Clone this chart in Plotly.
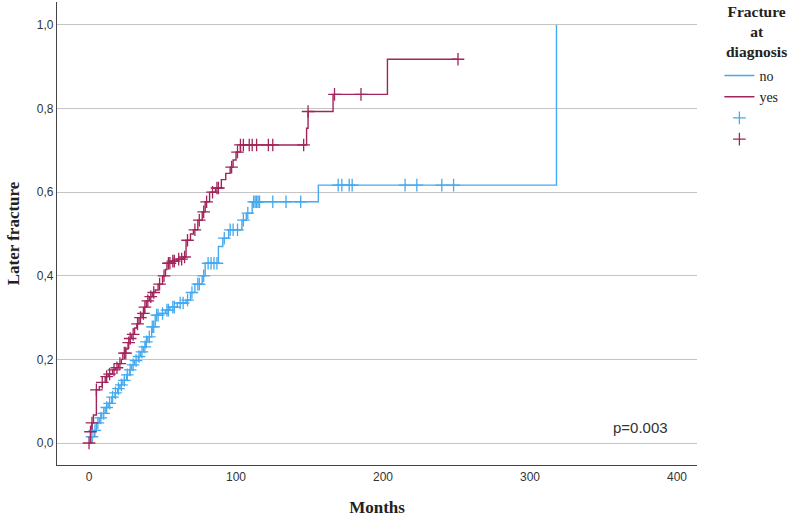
import plotly.graph_objects as go

# Kaplan-Meier cumulative incidence: "no" group (blue)
no_t = [0, 2, 3.5, 5, 7, 8.6, 11, 13, 15.5, 17.7, 19.5, 21, 23, 25.6, 27.5, 29, 31, 33.5, 35, 37,
        38.5, 40, 42.6, 45, 48, 52, 55, 60, 66, 69, 72, 77, 79, 88, 91, 95, 104, 107, 111, 156, 318]
no_v = [0.0, 0.015, 0.03, 0.048, 0.06, 0.071, 0.085, 0.095, 0.11, 0.12, 0.13, 0.139, 0.15, 0.163,
        0.175, 0.187, 0.197, 0.207, 0.218, 0.23, 0.242, 0.254, 0.278, 0.306, 0.31, 0.318, 0.325,
        0.335, 0.342, 0.36, 0.38, 0.40, 0.43, 0.47, 0.49, 0.51, 0.533, 0.55, 0.577, 0.617, 1.0]
no_cens_t = [2, 4, 6, 8, 10, 12, 14, 16, 18, 20, 22, 24, 26, 28, 30, 32, 34, 36, 38, 39, 41, 43, 44,
             46, 47, 50, 53, 54, 57, 58, 62, 64, 67, 70, 74, 75, 78, 81, 83, 85, 87, 92, 96, 98, 101,
             105, 108, 112, 113, 114, 115, 116, 125, 134, 144, 169.5, 172, 177, 179, 215, 223, 240, 248]
no_cens_v = [0.015, 0.03, 0.048, 0.06, 0.071, 0.085, 0.095, 0.11, 0.12, 0.13, 0.139, 0.15, 0.163,
             0.175, 0.187, 0.197, 0.207, 0.218, 0.23, 0.242, 0.254, 0.278, 0.278, 0.306, 0.306, 0.31,
             0.318, 0.318, 0.325, 0.325, 0.335, 0.335, 0.342, 0.36, 0.38, 0.38, 0.40, 0.43, 0.43,
             0.43, 0.43, 0.49, 0.51, 0.51, 0.51, 0.533, 0.55, 0.577, 0.577, 0.577, 0.577, 0.577,
             0.577, 0.577, 0.577, 0.617, 0.617, 0.617, 0.617, 0.617, 0.617, 0.617, 0.617]

# "yes" group (red)
yes_t = [0, 1, 2, 3, 5, 7, 9, 11, 13, 16, 18, 20, 22, 23, 25, 26.5, 28, 29, 31, 32.5, 34, 36, 37.5,
         39, 41, 43, 45, 47, 50, 52, 53, 56, 60, 64, 66, 69, 71, 74, 77, 79, 82, 86, 90, 93, 96, 98,
         100, 103, 148, 149, 166, 203, 251]
yes_v = [0, 0.027, 0.048, 0.067, 0.127, 0.135, 0.145, 0.159, 0.165, 0.175, 0.18, 0.19, 0.2, 0.215,
         0.225, 0.24, 0.25, 0.26, 0.275, 0.285, 0.3, 0.31, 0.325, 0.34, 0.35, 0.36, 0.366, 0.38, 0.40,
         0.415, 0.43, 0.435, 0.44, 0.445, 0.485, 0.50, 0.51, 0.533, 0.553, 0.577, 0.60, 0.61, 0.63,
         0.645, 0.66, 0.677, 0.696, 0.713, 0.753, 0.793, 0.834, 0.918, 0.918]
yes_cens_t = [0, 1, 2, 5, 9, 12, 14, 17, 19, 21, 24, 25, 27, 28, 30, 33, 35, 37, 38, 40, 42, 44, 48,
              51, 54, 55, 57, 58, 61, 63, 65, 67, 72, 75, 78, 80, 84, 87, 88, 97, 101, 103, 105, 109,
              111, 114, 122, 125, 146, 149, 167, 185, 251]
yes_cens_v = [0, 0.027, 0.048, 0.127, 0.145, 0.159, 0.165, 0.175, 0.18, 0.19, 0.215, 0.215, 0.24,
              0.25, 0.26, 0.285, 0.3, 0.31, 0.325, 0.34, 0.35, 0.36, 0.38, 0.40, 0.43, 0.43, 0.435,
              0.435, 0.44, 0.44, 0.445, 0.485, 0.51, 0.533, 0.553, 0.577, 0.60, 0.61, 0.61, 0.66,
              0.696, 0.713, 0.713, 0.713, 0.713, 0.713, 0.713, 0.713, 0.713, 0.793, 0.834, 0.834, 0.918]

y_ticks = [0.0, 0.2, 0.4, 0.6, 0.8, 1.0]
x_ticks = [0, 100, 200, 300, 400]

BLUE = "#44a9ee"
RED = "#a1245a"
SERIF = "Liberation Serif"
SANS = "Liberation Sans"

fig = go.Figure()
fig.add_trace(go.Scatter(x=no_t, y=no_v, mode="lines", line=dict(color=BLUE, width=1.4, shape="hv"),
                         name="no"))
fig.add_trace(go.Scatter(x=yes_t, y=yes_v, mode="lines", line=dict(color=RED, width=1.4, shape="hv"),
                         name="yes"))
fig.add_trace(go.Scatter(x=no_cens_t, y=no_cens_v, mode="markers", name=" ",
                         marker=dict(symbol="cross-thin", size=9, line=dict(color=BLUE, width=1.3))))
fig.add_trace(go.Scatter(x=yes_cens_t, y=yes_cens_v, mode="markers", name="  ",
                         marker=dict(symbol="cross-thin", size=9, line=dict(color=RED, width=1.3))))

fig.add_annotation(x=375, y=0.036, xref="x", yref="y", text="p=0.003", showarrow=False,
                   font=dict(family=SANS, size=15, color="#333333"))

# legend title, centered above the legend items
fig.add_annotation(x=1.093, y=1.002, xref="paper", yref="paper", xanchor="center", yanchor="top",
                   text="<b>Fracture<br>at<br>diagnosis</b>", showarrow=False, align="center",
                   font=dict(family=SERIF, size=15.5, color="#222222"))

fig.update_layout(
    width=789, height=519,
    margin=dict(l=57, r=92, t=2, b=54),
    plot_bgcolor="white", paper_bgcolor="white",
    separators=",.",
    showlegend=True,
    legend=dict(
        x=1.035, y=0.875, xanchor="left", yanchor="top",
        font=dict(family=SERIF, size=14, color="#222222"),
        tracegroupgap=0, itemwidth=30, bgcolor="rgba(0,0,0,0)",
    ),
    xaxis=dict(range=[-21.8, 413.6], tickvals=x_ticks, ticktext=[str(v) for v in x_ticks],
               showgrid=False, zeroline=False, showline=True, linecolor="#444444", linewidth=1.2,
               ticks="", tickfont=dict(family=SANS, size=12, color="#333333"),
               title=dict(text="<b>Months</b>", font=dict(family=SERIF, size=17, color="#222222"),
                          standoff=18)),
    yaxis=dict(range=[-0.0526, 1.055], tickvals=y_ticks, tickformat=".1f",
               showgrid=True, gridcolor="#c4c4c4", gridwidth=1, zeroline=False,
               showline=True, linecolor="#444444", linewidth=1.2, ticks="",
               tickfont=dict(family=SANS, size=12, color="#333333"),
               title=dict(text="<b>Later fracture</b>", font=dict(family=SERIF, size=17, color="#222222"),
                          standoff=12)),
)

fig.write_html("out.html")
